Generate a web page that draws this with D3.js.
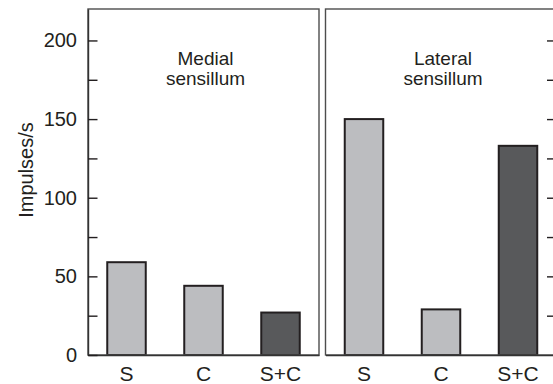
<!DOCTYPE html>
<html>
<head>
<meta charset="utf-8">
<script src="https://cdn.jsdelivr.net/npm/d3@7"></script>
<style>
  body { margin: 0; background: #fff; }
  svg text { font-family: "Liberation Sans", Arial, Helvetica, sans-serif; fill: #231f20; }
</style>
</head>
<body>
<div id="plot"></div>
<script>
// Data
const categories = ["S", "C", "S+C"];
const medialValues = [59, 44, 27];
const lateralValues = [150, 29, 133];
const barColors = ["#bcbdc0", "#bcbdc0", "#58595b"];
const yTicks = [0, 25, 50, 75, 100, 125, 150, 175, 200];
const yLabels = [0, 50, 100, 150, 200];
const panelTitles = [["Medial", "sensillum"], ["Lateral", "sensillum"]];

const width = 553;
const height = 384;
const plotTop = 9;
const plotBottom = 355;

const svg = d3.select("#plot").append("svg")
    .attr("width", width)
    .attr("height", height);

const y = d3.scaleLinear()
    .domain([0, 220])
    .range([plotBottom, plotTop]);

// Two panels side by side
const panels = [
    { x0: 88, x1: 319, values: medialValues, title: panelTitles[0] },
    { x0: 325.5, x1: 556.5, values: lateralValues, title: panelTitles[1] }
];

panels.forEach(function(p, i) {
    const x = d3.scaleBand()
        .domain(categories)
        .range([p.x0, p.x1])
        .paddingInner(0.5)
        .paddingOuter(0.25);

    const g = svg.append("g");

    // bars
    g.selectAll(".bar")
        .data(p.values)
        .enter().append("rect")
        .attr("class", "bar")
        .attr("x", (d, j) => x(categories[j]))
        .attr("y", d => y(d))
        .attr("width", x.bandwidth())
        .attr("height", d => y(0) - y(d))
        .attr("fill", (d, j) => barColors[j])
        .attr("stroke", "#231f20")
        .attr("stroke-width", 2);

    // frame
    g.append("rect")
        .attr("x", p.x0)
        .attr("y", plotTop)
        .attr("width", p.x1 - p.x0)
        .attr("height", plotBottom - plotTop)
        .attr("fill", "none")
        .attr("stroke", "#4d4d4d")
        .attr("stroke-width", 1.4);

    // category axis
    g.append("g")
        .attr("transform", `translate(0,${plotBottom})`)
        .call(d3.axisBottom(x).tickSize(0).tickPadding(11))
        .call(g => g.select(".domain").attr("stroke", "#333").attr("stroke-width", 1.4))
        .call(g => g.selectAll("text").attr("font-size", 21).attr("fill", "#231f20"));

    // title
    const cx = (p.x0 + p.x1) / 2 + 2;
    g.append("text")
        .attr("x", cx)
        .attr("y", 65)
        .attr("text-anchor", "middle")
        .attr("font-size", 19)
        .selectAll("tspan")
        .data(p.title)
        .enter().append("tspan")
        .attr("x", cx)
        .attr("dy", (d, k) => k === 0 ? 0 : 20)
        .text(d => d);
});

// left axis, ticks pointing inward
svg.append("g")
    .attr("transform", "translate(88,0)")
    .call(d3.axisLeft(y).tickValues(yTicks).tickSizeInner(-9.5).tickSizeOuter(0).tickPadding(11)
        .tickFormat(d => yLabels.includes(d) ? d : ""))
    .call(g => g.select(".domain").attr("stroke", "#333").attr("stroke-width", 1.4))
    .call(g => g.selectAll(".tick line").attr("stroke", "#231f20").attr("stroke-width", 1.4))
    .call(g => g.selectAll(".tick text").attr("font-size", 20).attr("fill", "#231f20"));

// right axis (sits just past the edge), ticks pointing inward
svg.append("g")
    .attr("transform", "translate(556.5,0)")
    .call(d3.axisRight(y).tickValues(yTicks.slice(1)).tickSizeInner(-9.5).tickSizeOuter(0).tickFormat(""))
    .call(g => g.select(".domain").remove())
    .call(g => g.selectAll(".tick line").attr("stroke", "#231f20").attr("stroke-width", 1.4));

// y label
svg.append("text")
    .attr("transform", "translate(33,170) rotate(-90)")
    .attr("text-anchor", "middle")
    .attr("font-size", 20)
    .text("Impulses/s");
</script>
</body>
</html>
